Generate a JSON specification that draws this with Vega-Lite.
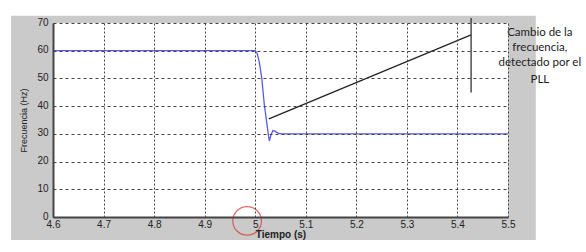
{
  "$schema": "https://vega.github.io/schema/vega-lite/v6.json",
  "width": 455,
  "height": 194,
  "autosize": {"type": "none"},
  "padding": {"left": 53, "top": 23, "right": 78, "bottom": 35},
  "background": "white",
  "config": {"view": {"stroke": null}, "font": "Liberation Sans"},
  "datasets": {
    "pll": [
      {"t": 4.6, "f": 60},
      {"t": 4.8, "f": 60},
      {"t": 5.0, "f": 60},
      {"t": 5.004, "f": 59},
      {"t": 5.008, "f": 56},
      {"t": 5.013, "f": 50},
      {"t": 5.018, "f": 40.5},
      {"t": 5.023, "f": 33.8},
      {"t": 5.026, "f": 29.5},
      {"t": 5.028, "f": 27.5},
      {"t": 5.031, "f": 29.5},
      {"t": 5.035, "f": 31.2},
      {"t": 5.039, "f": 31.0},
      {"t": 5.045, "f": 30.3},
      {"t": 5.052, "f": 30},
      {"t": 5.2, "f": 30},
      {"t": 5.5, "f": 30}
    ],
    "arrow": [
      {"t": 5.027, "f": 35.4},
      {"t": 5.427, "f": 65.7}
    ],
    "marker": [
      {"t": 5.427, "f": 44.9, "f2": 71.8}
    ],
    "note": [
      {"t": 5.563, "f": 66.4, "label": "Cambio de la"},
      {"t": 5.563, "f": 61.0, "label": "frecuencia,"},
      {"t": 5.563, "f": 55.6, "label": "detectado por el"},
      {"t": 5.563, "f": 49.6, "label": "PLL"}
    ],
    "circle": [
      {"t": 4.984, "f": -1.4}
    ]
  },
  "encoding": {
    "x": {
      "field": "t",
      "type": "quantitative",
      "title": "Tiempo (s)",
      "scale": {"domain": [4.6, 5.5], "nice": false, "zero": false},
      "axis": {
        "values": [4.6, 4.7, 4.8, 4.9, 5.0, 5.1, 5.2, 5.3, 5.4, 5.5],
        "format": "~g",
        "labelFontSize": 10,
        "labelColor": "#222",
        "labelPadding": 2,
        "labelFlush": false,
        "labelOverlap": false,
        "ticks": false,
        "domainColor": "#444",
        "domainWidth": 2,
        "grid": true,
        "gridColor": "#444",
        "gridDash": [2, 2],
        "gridWidth": 1,
        "gridOpacity": 1,
        "titleFontSize": 10,
        "titleFontWeight": "bold",
        "titleColor": "#222",
        "titlePadding": 0,
        "zindex": 1
      }
    },
    "y": {
      "field": "f",
      "type": "quantitative",
      "title": "Frecuencia (Hz)",
      "scale": {"domain": [0, 70], "nice": false, "zero": false},
      "axis": {
        "values": [0, 10, 20, 30, 40, 50, 60, 70],
        "labelFontSize": 10,
        "labelColor": "#222",
        "labelPadding": 5,
        "labelFlush": false,
        "labelOverlap": false,
        "labelOffset": -1,
        "ticks": false,
        "domainColor": "#444",
        "domainWidth": 2,
        "grid": true,
        "gridColor": "#444",
        "gridDash": [3, 3],
        "gridWidth": 1,
        "gridOpacity": 1,
        "titleFontSize": 9,
        "titleFontWeight": "normal",
        "titleColor": "#222",
        "titlePadding": 8,
        "zindex": 1
      }
    }
  },
  "layer": [
    {
      "data": {"values": [{"t": 5.0, "f": 35}]},
      "mark": {"type": "rect", "fill": "#cacaca", "strokeWidth": 0, "clip": false, "invalid": "show"},
      "encoding": {
        "x": {"datum": 4.517, "type": "quantitative", "title": "Tiempo (s)"},
        "x2": {"datum": 5.555},
        "y": {"datum": -8.3, "type": "quantitative", "title": "Frecuencia (Hz)"},
        "y2": {"datum": 72.6}
      }
    },
    {
      "data": {"values": [{"t": 5.0, "f": 35}]},
      "mark": {"type": "rect", "fill": "white", "strokeWidth": 0, "invalid": "show"},
      "encoding": {
        "x": {"datum": 4.6, "type": "quantitative", "title": "Tiempo (s)"},
        "x2": {"datum": 5.5},
        "y": {"datum": 0, "type": "quantitative", "title": "Frecuencia (Hz)"},
        "y2": {"datum": 70}
      }
    },
    {
      "data": {"name": "pll"},
      "mark": {"type": "line", "color": "#5a5ae6", "strokeWidth": 1.3},
      "encoding": {}
    },
    {
      "data": {"name": "arrow"},
      "mark": {"type": "line", "color": "#222222", "strokeWidth": 1.2},
      "encoding": {}
    },
    {
      "data": {"name": "marker"},
      "mark": {"type": "rule", "color": "#333333", "strokeWidth": 1.3, "clip": false},
      "encoding": {"y2": {"field": "f2"}}
    },
    {
      "data": {"name": "note"},
      "mark": {"type": "text", "font": "Lato", "fontSize": 11.5, "color": "#222", "align": "center", "baseline": "middle", "clip": false},
      "encoding": {"text": {"field": "label"}}
    },
    {
      "data": {"name": "circle"},
      "mark": {"type": "point", "shape": "circle", "filled": false, "color": "#d9302c", "strokeWidth": 1.2, "size": 820, "clip": false},
      "encoding": {}
    }
  ]
}
